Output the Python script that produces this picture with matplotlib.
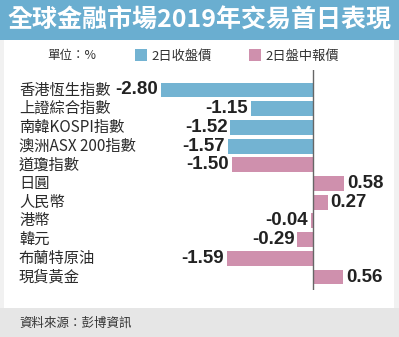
import matplotlib
matplotlib.use("Agg")
import matplotlib.pyplot as plt
from matplotlib.patches import Rectangle
import matplotlib.transforms as mtransforms

plt.rcParams['font.family'] = ['Noto Sans CJK TC', 'DejaVu Sans']

title = "全球金融市場2019年交易首日表現"
unit_label = "單位：%"
series_names = ["2日收盤價", "2日盤中報價"]
categories = ["香港恆生指數", "上證綜合指數", "南韓KOSPI指數", "澳洲ASX 200指數", "道瓊指數",
              "日圓", "人民幣", "港幣", "韓元", "布蘭特原油", "現貨黃金"]
values = [-2.80, -1.15, -1.52, -1.57, -1.50, 0.58, 0.27, -0.04, -0.29, -1.59, 0.56]
series_idx = [0, 0, 0, 0, 1, 1, 1, 1, 1, 1, 1]
source = "資料來源：彭博資訊"

colors = ["#73b3d2", "#cf90ad"]

W, H = 399, 337
fig = plt.figure(figsize=(W / 100, H / 100), dpi=100)
fig.patch.set_facecolor("#f1f1f1")

def px_rect(x0, y0, x1, y1, color):
    fig.patches.append(Rectangle((x0 / W, 1 - y1 / H), (x1 - x0) / W, (y1 - y0) / H,
                                 transform=fig.transFigure, facecolor=color,
                                 edgecolor="none", zorder=-1))

px_rect(0, 0, W, 40, "#6aaed0")
px_rect(4, 40, 394, 308, "#ffffff")
px_rect(0, 308, W, H, "#e6e6e6")

fig.text(199 / W, 1 - 21 / H, title, color="white", fontsize=18, fontweight="bold",
         ha="center", va="center")

# legend / unit
fig.text(47 / W, 1 - 56 / H, unit_label, fontsize=9, color="#333333", ha="left", va="center")
for i, (lx, name) in enumerate([(135, series_names[0]), (249, series_names[1])]):
    px_rect(lx, 49, lx + 12, 61, colors[i])
    fig.text((lx + 16) / W, 1 - 56 / H, name, fontsize=9.5, color="#333333", ha="left", va="center")

fig.text(19 / W, 1 - 323 / H, source, fontsize=9, color="#333333", ha="left", va="center")

# axes
ax_l, ax_r, ax_t, ax_b = 19, 390, 70, 290
ax = fig.add_axes([ax_l / W, 1 - ax_b / H, (ax_r - ax_l) / W, (ax_b - ax_t) / H])
ax.set_zorder(2)
ax.set_facecolor("none")
ppu = 54.3
zero = 313
ax.set_xlim(-(zero - ax_l) / ppu, (ax_r - zero) / ppu)
row0, step = 90, 18.7
ax.set_ylim((ax_b - row0) / step, (ax_t - row0) / step)
for s in ax.spines.values():
    s.set_visible(False)
ax.set_xticks([])
ax.set_yticks([])

ypos = list(range(len(categories)))
ax.barh(ypos, values, height=0.8, color=[colors[i] for i in series_idx], zorder=2)
ax.axvline(0, color="#666666", lw=1.0, zorder=3)

trans = mtransforms.blended_transform_factory(ax.transAxes, ax.transData)
for y, cat, v in zip(ypos, categories, values):
    ax.text(0, y, cat, transform=trans, fontsize=11, fontweight=300, color="#2a2a2a",
            ha="left", va="center")
    off = 0.05
    if v < 0:
        ax.text(v - off, y, f"{v:.2f}", fontsize=13.5, fontweight="bold", ha="right", va="center",
                family=["Liberation Sans", "DejaVu Sans"], color="#222222")
    else:
        ax.text(v + off, y, f"{v:.2f}", fontsize=13.5, fontweight="bold", ha="left", va="center",
                family=["Liberation Sans", "DejaVu Sans"], color="#222222")

fig.savefig("out.png", dpi=100, facecolor=fig.get_facecolor())
